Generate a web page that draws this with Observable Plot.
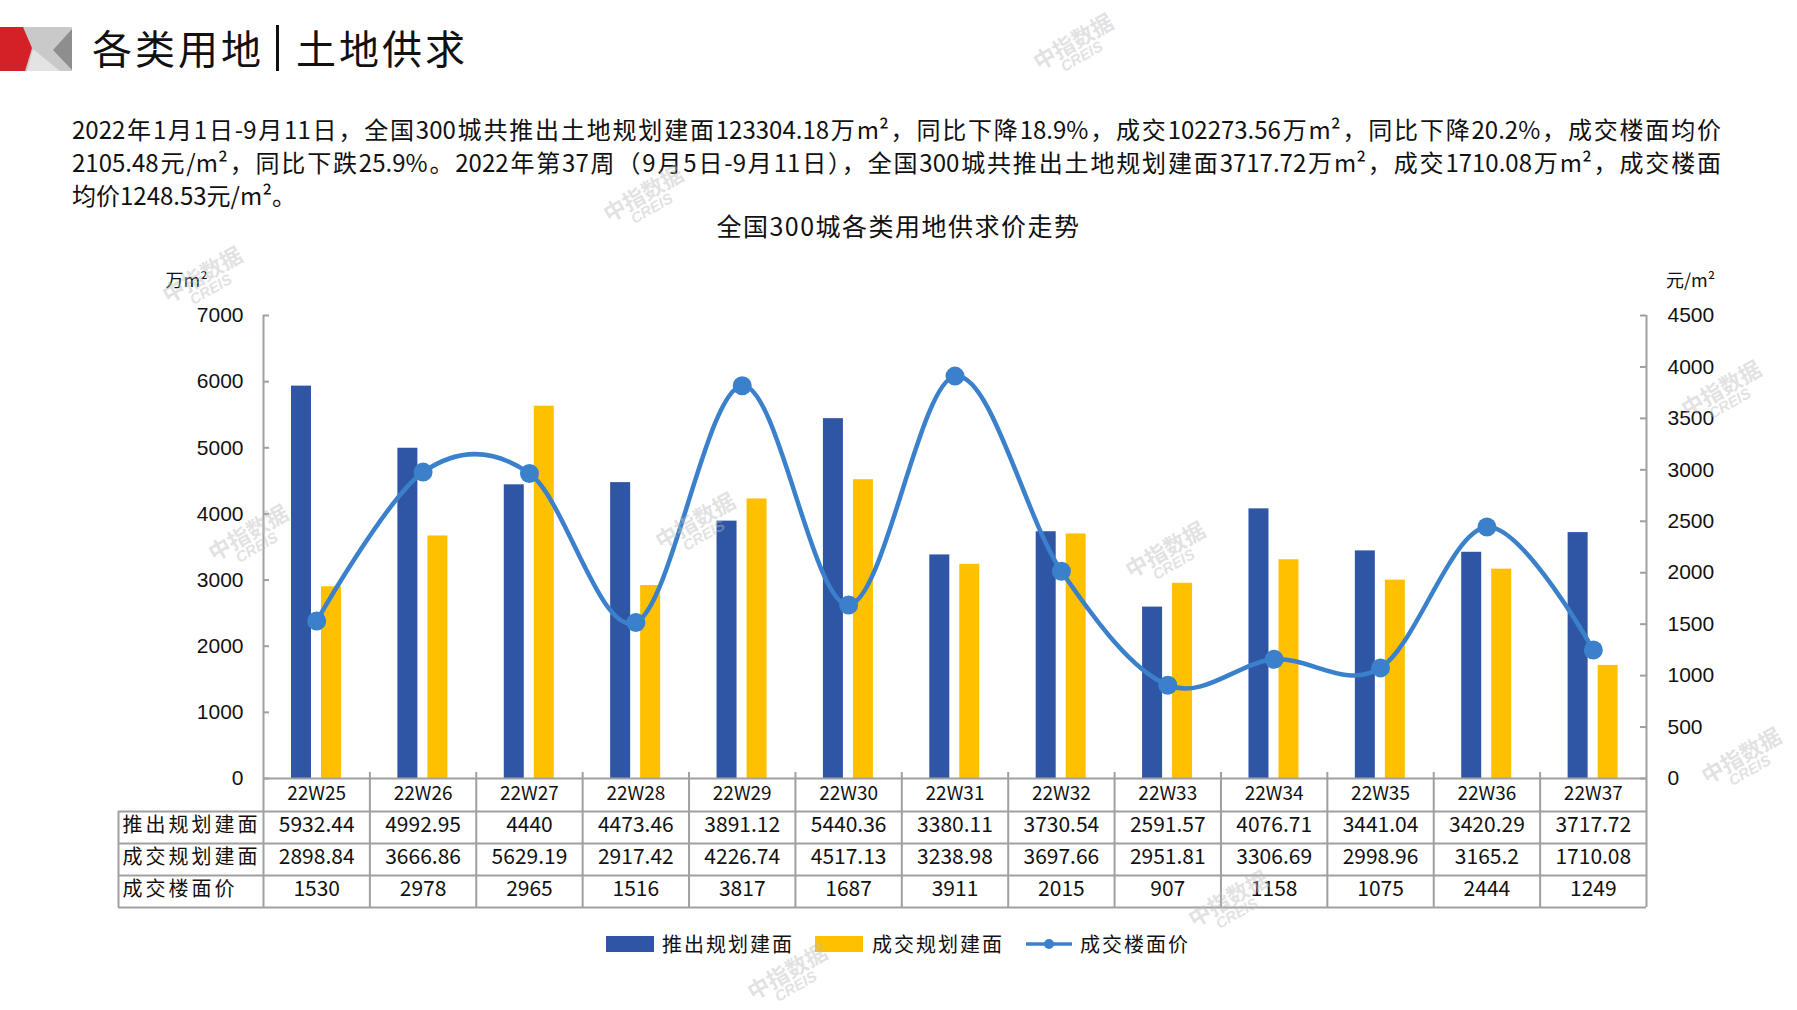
<!DOCTYPE html>
<html>
<head>
<meta charset="utf-8">
<script src="https://cdn.jsdelivr.net/npm/d3@7"></script>
<script src="https://cdn.jsdelivr.net/npm/@observablehq/plot@0.6"></script>
<style>
  html, body { margin: 0; padding: 0; background: #fff; }
  body { width: 1797px; height: 1010px; position: relative; overflow: hidden; font-family: "Noto Sans CJK SC", "Noto Sans", sans-serif; color: #111; }
  .abs { position: absolute; white-space: nowrap; }
  .title { font-size: 40px; line-height: 50px; top: 22px; letter-spacing: 3px; color: #111; }
  .para { left: 72px; width: 1649px; font-size: 24px; line-height: 33px; color: #111; }
  .just { text-align: justify; text-align-last: justify; }
  .ctitle { left: 0; width: 1797px; text-align: center; top: 208px; font-size: 25px; line-height: 34px; letter-spacing: 1.5px; color: #111; }
  .wm { position: absolute; white-space: nowrap; color: rgba(190,190,190,0.45); transform: rotate(-30deg); text-align: center; line-height: 1; pointer-events: none; }
  .wm b { display: block; font-size: 22px; font-weight: 700; }
  .wm i { display: block; font-size: 15px; font-family: "Liberation Sans", sans-serif; font-weight: 700; }
  #chart { position: absolute; left: 0; top: 250px; }
  .lg-text { position: absolute; top: 930px; font-size: 20px; line-height: 28px; letter-spacing: 2px; color: #111; }
</style>
</head>
<body>
<svg class="abs" style="left:0;top:27px" width="72" height="44" viewBox="0 0 72 44">
  <rect x="0" y="0" width="72" height="44" fill="#c9c9c9"/>
  <polygon points="27,44 33,22 60,44" fill="#e3e3e3"/>
  <polygon points="72,2 53,23 72,43" fill="#8e8e8e"/>
  <polygon points="0,0 23,0 32,21 25,44 0,44" fill="#d42027"/>
</svg>
<div class="abs title" style="left:92px">各类用地</div>
<div class="abs" style="left:276px;top:25px;width:3px;height:46px;background:#111"></div>
<div class="abs title" style="left:296px">土地供求</div>

<div class="abs para just" style="top:112px">2022年1月1日-9月11日，全国300城共推出土地规划建面123304.18万m²，同比下降18.9%，成交102273.56万m²，同比下降20.2%，成交楼面均价</div>
<div class="abs para just" style="top:145px">2105.48元/m²，同比下跌25.9%。2022年第37周（9月5日-9月11日），全国300城共推出土地规划建面3717.72万m²，成交1710.08万m²，成交楼面</div>
<div class="abs para" style="top:178px">均价1248.53元/m²。</div>

<div class="abs ctitle">全国300城各类用地供求价走势</div>

<div id="chart"></div>
<div id="legend"></div>
<div id="wms"></div>

<script>
// ---- data ----
const categories = ["22W25","22W26","22W27","22W28","22W29","22W30","22W31","22W32","22W33","22W34","22W35","22W36","22W37"];
const supply = [5932.44, 4992.95, 4440, 4473.46, 3891.12, 5440.36, 3380.11, 3730.54, 2591.57, 4076.71, 3441.04, 3420.29, 3717.72];
const deal = [2898.84, 3666.86, 5629.19, 2917.42, 4226.74, 4517.13, 3238.98, 3697.66, 2951.81, 3306.69, 2998.96, 3165.2, 1710.08];
const price = [1530, 2978, 2965, 1516, 3817, 1687, 3911, 2015, 907, 1158, 1075, 2444, 1249];
const leftTicks = [0, 1000, 2000, 3000, 4000, 5000, 6000, 7000];
const rightTicks = [0, 500, 1000, 1500, 2000, 2500, 3000, 3500, 4000, 4500];
const seriesNames = ["推出规划建面", "成交规划建面", "成交楼面价"];
const leftUnit = "万m²";
const rightUnit = "元/m²";

// ---- styling ----
const BLUE = "#2F56A4";
const YELLOW = "#FFC000";
const LINEC = "#3B80CB";
const GRID = "#A0A0A0";
const CJK = "Noto Sans CJK SC";

const W = 1797, H = 665, mT = 65, mB = 137, mL = 263, mR = 151;
const plotW = W - mL - mR;
const plotH = H - mT - mB;
const bw = plotW / categories.length;
const k = leftTicks[leftTicks.length - 1] / rightTicks[rightTicks.length - 1];

const rows = categories.map((c, i) => ({c, supply: supply[i], deal: deal[i], price: price[i]}));
const rowEdges = [33, 65, 97, 129];
const rowCenters = [21, 53, 85, 117];

const chart = Plot.plot({
  width: W, height: H,
  marginTop: mT, marginBottom: mB, marginLeft: mL, marginRight: mR,
  style: {fontFamily: "'Liberation Sans', Arial, " + CJK, fontSize: "21px", color: "#111", background: "transparent", overflow: "visible"},
  x: {type: "band", domain: categories, padding: 0, round: false, axis: null},
  y: {domain: [0, leftTicks[leftTicks.length - 1]], axis: null},
  marks: [
    Plot.barY(rows, {x: "c", y: "supply", fill: BLUE, insetLeft: 28, insetRight: bw - 48}),
    Plot.barY(rows, {x: "c", y: "deal", fill: YELLOW, insetLeft: 58, insetRight: bw - 78}),
    // axis lines and inner ticks
    Plot.ruleY([0], {stroke: GRID, strokeWidth: 2}),
    Plot.ruleY(leftTicks, {stroke: GRID, strokeWidth: 2, insetRight: plotW - 6}),
    Plot.ruleY(rightTicks.map(v => v * k), {stroke: GRID, strokeWidth: 2, insetLeft: plotW - 6}),
    Plot.ruleX([categories[0]], {dx: -bw / 2, stroke: GRID, strokeWidth: 2, insetBottom: -rowEdges[3]}),
    Plot.ruleX([categories[categories.length - 1]], {dx: bw / 2, stroke: GRID, strokeWidth: 2, insetBottom: -rowEdges[3]}),
    // table grid
    Plot.ruleX(categories.slice(1), {dx: -bw / 2, stroke: GRID, strokeWidth: 2, insetTop: plotH - 6, insetBottom: -rowEdges[3]}),
    Plot.ruleX([categories[0]], {dx: -bw / 2 - 145, stroke: GRID, strokeWidth: 2, insetTop: plotH + rowEdges[0], insetBottom: -rowEdges[3]}),
    ...rowEdges.map(d => Plot.ruleY([0], {dy: d, insetLeft: -145, stroke: GRID, strokeWidth: 2})),
    // price line
    Plot.line(rows, {x: "c", y: d => d.price * k, curve: "cardinal", tension: 0, stroke: LINEC, strokeWidth: 4.5}),
    Plot.dot(rows, {x: "c", y: d => d.price * k, r: 9.5, fill: LINEC}),
    // axes
    Plot.axisY(leftTicks, {anchor: "left", tickSize: 0, tickPadding: 20, label: null, fontSize: 21, tickFormat: v => String(v)}),
    Plot.axisY(rightTicks.map(v => v * k), {anchor: "right", tickSize: 0, tickPadding: 21, label: null, fontSize: 21, tickFormat: v => String(Math.round(v / k))}),
    Plot.text([leftUnit], {text: d => d, frameAnchor: "top-left", textAnchor: "middle", dx: -77, dy: -41, fontFamily: CJK, fontSize: 18}),
    Plot.text([rightUnit], {text: d => d, frameAnchor: "top-right", textAnchor: "middle", dx: 44, dy: -41, fontFamily: CJK, fontSize: 18}),
    // table text
    Plot.text(rows, {x: "c", text: "c", frameAnchor: "bottom", dy: rowCenters[0], fontFamily: CJK, fontSize: 19}),
    Plot.text(rows, {x: "c", text: d => String(d.supply), frameAnchor: "bottom", dy: rowCenters[1], fontFamily: CJK, fontSize: 21}),
    Plot.text(rows, {x: "c", text: d => String(d.deal), frameAnchor: "bottom", dy: rowCenters[2], fontFamily: CJK, fontSize: 21}),
    Plot.text(rows, {x: "c", text: d => String(d.price), frameAnchor: "bottom", dy: rowCenters[3], fontFamily: CJK, fontSize: 21}),
    ...seriesNames.map((name, i) => Plot.text([name], {text: d => d, frameAnchor: "bottom-left", dx: -141, dy: rowCenters[i + 1], textAnchor: "start", fontFamily: CJK, fontSize: 20}))
  ]
});
// widen the spacing of the row header labels
d3.select(chart).selectAll("text").filter(function() { return seriesNames.includes(this.textContent); }).attr("letter-spacing", 3);
document.getElementById("chart").appendChild(chart);

// ---- legend ----
const legend = document.getElementById("legend");
const lgItems = [
  {name: seriesNames[0], type: "bar", color: BLUE, sw: 606, tx: 662},
  {name: seriesNames[1], type: "bar", color: YELLOW, sw: 815, tx: 872},
  {name: seriesNames[2], type: "line", color: LINEC, sw: 1026, tx: 1080}
];
for (const it of lgItems) {
  const s = document.createElementNS("http://www.w3.org/2000/svg", "svg");
  s.setAttribute("width", 48); s.setAttribute("height", 20);
  s.style.position = "absolute"; s.style.left = it.sw + "px"; s.style.top = "934px";
  if (it.type === "bar") {
    s.innerHTML = `<rect x="0" y="2" width="48" height="16" fill="${it.color}"/>`;
  } else {
    s.innerHTML = `<line x1="0" x2="46" y1="10" y2="10" stroke="${it.color}" stroke-width="3.5"/><circle cx="23" cy="10" r="5" fill="${it.color}"/>`;
  }
  legend.appendChild(s);
  const t = document.createElement("div");
  t.className = "lg-text"; t.style.left = it.tx + "px"; t.textContent = it.name;
  legend.appendChild(t);
}

// ---- watermarks (decorative) ----
const wmPos = [[1077,48],[647,200],[206,281],[252,539],[699,527],[1169,556],[1725,395],[1745,762],[1232,905],[791,978]];
const wms = document.getElementById("wms");
for (const [x, y] of wmPos) {
  const d = document.createElement("div");
  d.className = "wm";
  d.style.left = (x - 45) + "px"; d.style.top = (y - 20) + "px";
  d.innerHTML = "<b>中指数据</b><i>CREIS</i>";
  wms.appendChild(d);
}
</script>
</body>
</html>
